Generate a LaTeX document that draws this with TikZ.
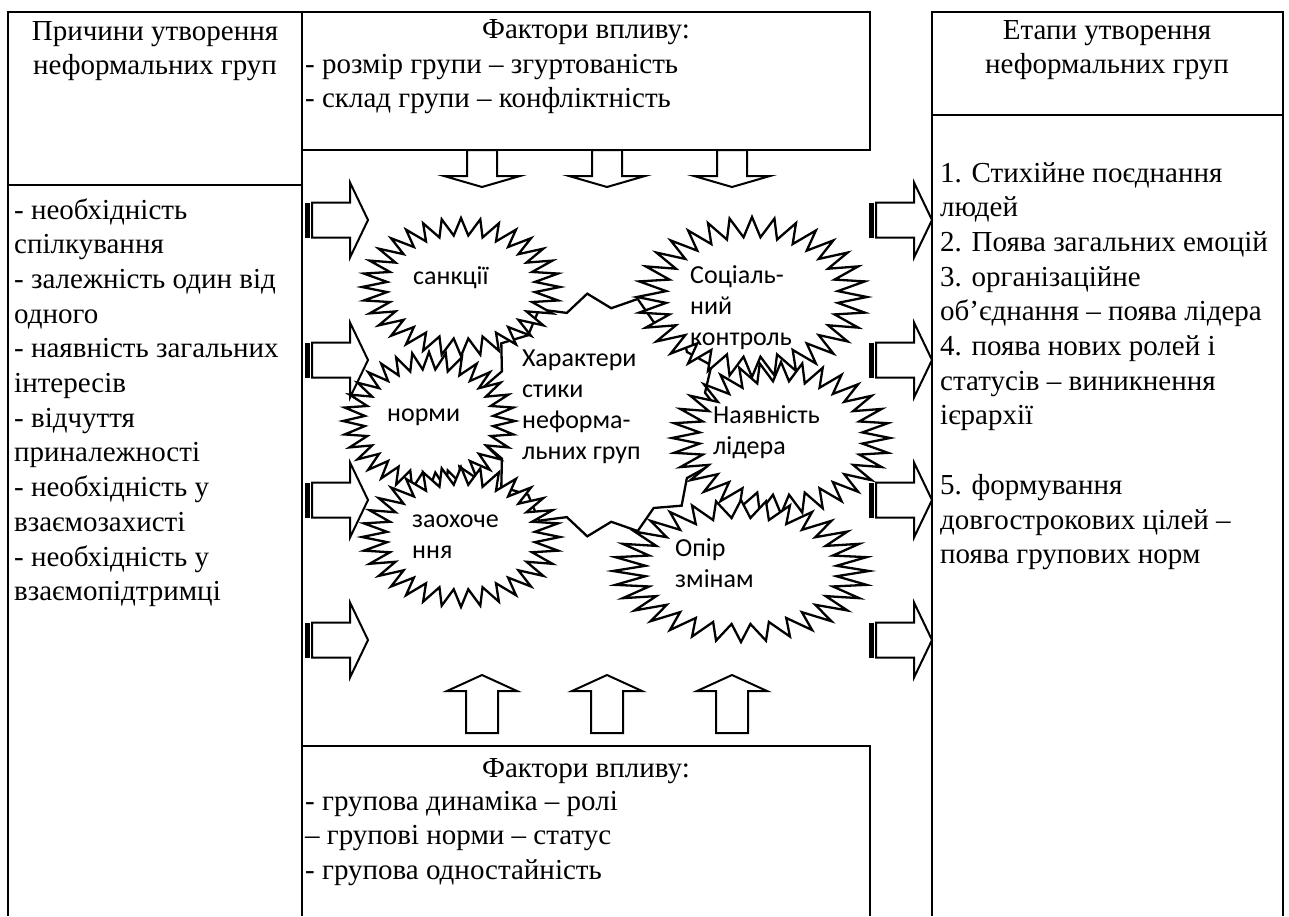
\documentclass[tikz,border=0pt]{standalone}
\usepackage{fontspec}
\setmainfont{Liberation Serif}
\newfontfamily\calibri{Carlito}
\newcommand\serifsz{\fontsize{29}{34.7}\selectfont}
\newcommand\burstsz{\calibri\fontsize{26}{31}\selectfont}
% star: cx cy rx ry innerratio npoints
\newcommand\burstshape[6]{%
  \pgfmathtruncatemacro\burstlast{2*#6-1}%
  \filldraw[burst] ({#1+#3},{#2}) \foreach \k [evaluate=\k as \rr using {1-(1-#5)*mod(\k,2)}] in {1,...,\burstlast} { -- ({#1+\rr*#3*cos(\k*180/#6)},{#2+\rr*#4*sin(\k*180/#6)}) } -- cycle;%
}
% right block arrow with striped tail: tail x, centre y
\newcommand\rblockarrow[2]{%
  \fill ({#1},{#2-17.5}) rectangle ({#1+4.5},{#2+17.5});
  \draw[blockarrow] ({#1+7},{#2-17.5}) -- ({#1+45},{#2-17.5}) -- ({#1+45},{#2-37.5}) -- ({#1+63},{#2}) -- ({#1+45},{#2+37.5}) -- ({#1+45},{#2+17.5}) -- ({#1+7},{#2+17.5}) -- cycle;%
}
\newcommand\dblockarrow[1]{%
  \draw[blockarrow] ({#1-15},150) -- ({#1+15},150) -- ({#1+15},176) -- ({#1+38},176) -- ({#1},187) -- ({#1-38},176) -- ({#1-15},176) -- cycle;%
}
\newcommand\ublockarrow[1]{%
  \draw[blockarrow] ({#1-16},733) -- ({#1+16},733) -- ({#1+16},691) -- ({#1+35},691) -- ({#1},675) -- ({#1-35},691) -- ({#1-16},691) -- cycle;%
}
\tikzset{
  box/.style={line width=2.6pt, line join=miter},
  blockarrow/.style={line width=2pt, fill=white, line join=miter},
  burst/.style={line width=2.3pt, fill=white, line join=miter},
  serift/.style={inner sep=0pt, font=\serifsz},
  burstt/.style={inner sep=0pt, font=\burstsz},
}
\begin{document}
\begin{tikzpicture}[x=1pt,y=-1pt]
\fill[white] (0,0) rectangle (1289,916);
\useasboundingbox (0,0) rectangle (1289,916);

% frames
\draw[box] (8,916) -- (8,12) -- (302,12) -- (302,916);
\draw[box] (8,185) -- (302,185);
\draw[box] (302,12) -- (870,12) -- (870,150) -- (302,150);
\draw[box] (932,916) -- (932,12) -- (1283,12) -- (1283,916);
\draw[box] (932,115) -- (1283,115);
\draw[box] (302,746) -- (870,746) -- (870,916);

% arrows
\foreach \yy in {220,360,500,640} {\rblockarrow{305}{\yy}}
\foreach \yy in {220,360,500,640} {\rblockarrow{869}{\yy}}
\foreach \xx in {482,607,732} {\dblockarrow{\xx}}
\foreach \xx in {482,607,732} {\ublockarrow{\xx}}

% stars
\burstshape{600}{415}{122}{122}{0.88}{15}
\burstshape{461}{287}{99}{69}{0.75}{32}
\burstshape{429}{421}{86}{69}{0.75}{32}
\burstshape{461}{537}{99}{70}{0.75}{32}
\burstshape{752}{297}{115}{80}{0.75}{32}
\burstshape{781}{438}{109}{76}{0.75}{32}
\burstshape{741}{571}{128}{71}{0.75}{32}

% texts
\node[serift, anchor=base] (causeshead) at (155,40) {\begin{tabular}[t]{@{}c@{}}Причини утворення\\неформальних груп\end{tabular}};
\node[serift, anchor=base] (stageshead) at (1107,39) {\begin{tabular}[t]{@{}c@{}}Етапи утворення\\неформальних груп\end{tabular}};
\node[serift, anchor=base] (toptitle) at (586,38) {Фактори впливу:};
\node[serift, anchor=base west] (toplist) at (305,73) {\begin{tabular}[t]{@{}l@{}}- розмір групи – згуртованість\\- склад групи – конфліктність\end{tabular}};
\node[serift, anchor=base] (bottitle) at (586,777) {Фактори впливу:};
\node[serift, anchor=base west] (botlist) at (305,810) {\begin{tabular}[t]{@{}l@{}}- групова динаміка – ролі\\– групові норми – статус\\- групова одностайність\end{tabular}};
\node[serift, anchor=base west] (causes) at (14,219) {\begin{tabular}[t]{@{}l@{}}- необхідність\\спілкування\\- залежність один від\\одного\\- наявність загальних\\інтересів\\- відчуття\\приналежності\\- необхідність у\\взаємозахисті\\- необхідність у\\взаємопідтримці\end{tabular}};
\node[serift, anchor=base west] (stages) at (940,182) {\begin{tabular}[t]{@{}l@{}}1. Стихійне поєднання\\людей\\2. Поява загальних емоцій\\3. організаційне\\об’єднання – поява лідера\\4. поява нових ролей і\\статусів – виникнення\\ієрархії\\ \\5. формування\\довгострокових цілей –\\поява групових норм\end{tabular}};

\node[burstt, anchor=base west] (sanctions) at (413,284) {санкції};
\node[burstt, anchor=base west] (norms) at (387,421) {норми};
\node[burstt, anchor=base west] (rewards) at (412,527) {\begin{tabular}[t]{@{}l@{}}заохоче\\ння\end{tabular}};
\node[burstt, anchor=base west] (features) at (522,366) {\begin{tabular}[t]{@{}l@{}}Характери\\стики\\неформа-\\льних груп\end{tabular}};
\node[burstt, anchor=base west] (control) at (690,283) {\begin{tabular}[t]{@{}l@{}}Соціаль-\\ний\\контроль\end{tabular}};
\node[burstt, anchor=base west] (leader) at (713,423) {\begin{tabular}[t]{@{}l@{}}Наявність\\лідера\end{tabular}};
\node[burstt, anchor=base west] (resist) at (675,556) {\begin{tabular}[t]{@{}l@{}}Опір\\змінам\end{tabular}};
\end{tikzpicture}
\end{document}
